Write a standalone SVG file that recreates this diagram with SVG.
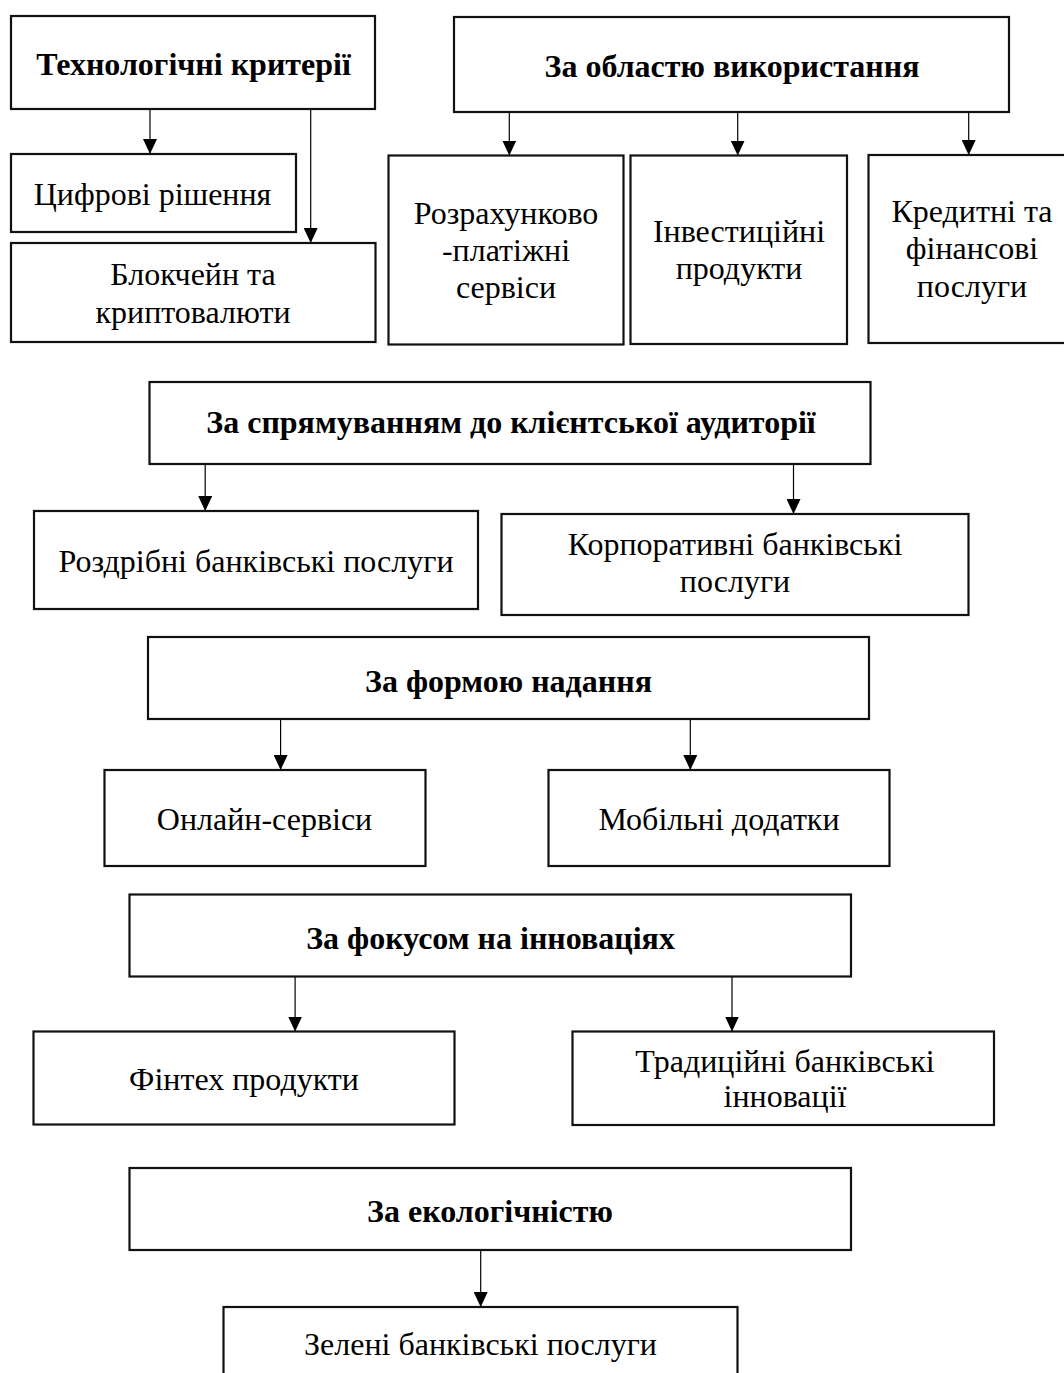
<svg xmlns="http://www.w3.org/2000/svg" width="1064" height="1373" viewBox="0 0 1064 1373">
<defs>
<marker id="ah" markerUnits="userSpaceOnUse" markerWidth="15" markerHeight="14" refX="15" refY="7" orient="auto">
<path d="M0,0 L15,7 L0,14 z" fill="#000"/>
</marker>
<style>
.box{fill:#fff;stroke:#111;stroke-width:2.2}
.h{font-family:"Liberation Serif","Times New Roman",serif;font-weight:bold;font-size:32px;fill:#000;text-anchor:middle}
.t{font-family:"Liberation Serif","Times New Roman",serif;font-size:32px;fill:#000;text-anchor:middle}
.c{stroke:#000;stroke-width:1.2;fill:none;marker-end:url(#ah)}
</style>
</defs>
<rect width="1064" height="1373" fill="#fff"/>
<g id="connectors">
<line class="c" x1="150" y1="109" x2="150" y2="154"/>
<line class="c" x1="310.7" y1="109" x2="310.7" y2="243"/>
<line class="c" x1="509.3" y1="112" x2="509.3" y2="155.5"/>
<line class="c" x1="737.7" y1="112" x2="737.7" y2="155.5"/>
<line class="c" x1="968.7" y1="112" x2="968.7" y2="155"/>
<line class="c" x1="205.2" y1="464" x2="205.2" y2="511"/>
<line class="c" x1="793.5" y1="464" x2="793.5" y2="514"/>
<line class="c" x1="280.6" y1="719" x2="280.6" y2="770"/>
<line class="c" x1="690.3" y1="719" x2="690.3" y2="770"/>
<line class="c" x1="295.1" y1="976.5" x2="295.1" y2="1031.5"/>
<line class="c" x1="732" y1="976.5" x2="732" y2="1031.5"/>
<line class="c" x1="480.7" y1="1250" x2="480.7" y2="1307"/>
</g>
<g id="n1"><rect class="box" x="11" y="16" width="364" height="93"/><text class="h" x="193.5" y="75">Технологічні критерії</text></g>
<g id="n2"><rect class="box" x="11" y="154" width="285" height="78"/><text class="t" x="152.5" y="205">Цифрові рішення</text></g>
<g id="n3"><rect class="box" x="11" y="243" width="364.5" height="99"/><text class="t" x="193" y="285">Блокчейн та</text><text class="t" x="193" y="323">криптовалюти</text></g>
<g id="n4"><rect class="box" x="454" y="17" width="555" height="95"/><text class="h" x="732" y="77">За областю використання</text></g>
<g id="n5"><rect class="box" x="388.5" y="155.5" width="235" height="189"/><text class="t" x="506" y="224">Розрахунково</text><text class="t" x="506" y="261">-платіжні</text><text class="t" x="506" y="298">сервіси</text></g>
<g id="n6"><rect class="box" x="630.5" y="155.5" width="216.5" height="188.5"/><text class="t" x="739" y="242">Інвестиційні</text><text class="t" x="739" y="279">продукти</text></g>
<g id="n7"><rect class="box" x="868.5" y="155" width="210" height="188"/><text class="t" x="972" y="222">Кредитні та</text><text class="t" x="972" y="259">фінансові</text><text class="t" x="972" y="297">послуги</text></g>
<g id="n8"><rect class="box" x="149.5" y="382" width="721" height="82"/><text class="h" x="511" y="433">За спрямуванням до клієнтської аудиторії</text></g>
<g id="n9"><rect class="box" x="34" y="511" width="444" height="98"/><text class="t" x="256" y="572">Роздрібні банківські послуги</text></g>
<g id="n10"><rect class="box" x="501.5" y="514" width="467" height="101"/><text class="t" x="735" y="555">Корпоративні банківські</text><text class="t" x="735" y="592">послуги</text></g>
<g id="n11"><rect class="box" x="148" y="637" width="721" height="82"/><text class="h" x="508.5" y="692">За формою надання</text></g>
<g id="n12"><rect class="box" x="104.5" y="770" width="321" height="96"/><text class="t" x="264.5" y="830">Онлайн-сервіси</text></g>
<g id="n13"><rect class="box" x="548.5" y="770" width="341" height="96"/><text class="t" x="719" y="830">Мобільні додатки</text></g>
<g id="n14"><rect class="box" x="129.5" y="894.5" width="721.5" height="82"/><text class="h" x="490.5" y="949">За фокусом на інноваціях</text></g>
<g id="n15"><rect class="box" x="33.5" y="1031.5" width="421" height="93"/><text class="t" x="244" y="1090">Фінтех продукти</text></g>
<g id="n16"><rect class="box" x="572.5" y="1031.5" width="421.5" height="93.5"/><text class="t" x="785" y="1072">Традиційні банківські</text><text class="t" x="785" y="1107">інновації</text></g>
<g id="n17"><rect class="box" x="129.5" y="1168" width="721.5" height="82"/><text class="h" x="490" y="1222">За екологічністю</text></g>
<g id="n18"><rect class="box" x="223.5" y="1307" width="514" height="80"/><text class="t" x="480.5" y="1355">Зелені банківські послуги</text></g>
</svg>
